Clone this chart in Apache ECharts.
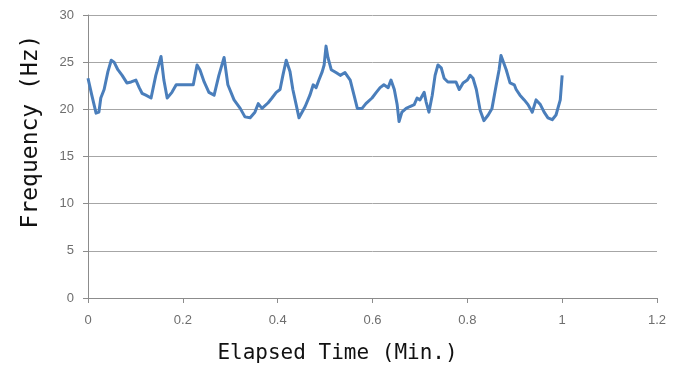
<!DOCTYPE html>
<html><head><meta charset="utf-8">
<script src="https://cdn.jsdelivr.net/npm/echarts@6/dist/echarts.min.js"></script>
<style>html,body{margin:0;padding:0;background:#fff}#c{width:688px;height:373px}</style>
</head><body><div id="c"></div>
<script>
var times = [0.000,0.008,0.017,0.023,0.027,0.034,0.042,0.049,0.055,0.063,0.072,0.082,0.091,0.101,0.108,0.114,0.122,0.133,0.143,0.154,0.160,0.167,0.177,0.186,0.203,0.222,0.230,0.236,0.245,0.255,0.266,0.276,0.287,0.295,0.308,0.321,0.331,0.342,0.352,0.359,0.367,0.380,0.388,0.397,0.405,0.411,0.418,0.426,0.432,0.439,0.445,0.458,0.468,0.475,0.481,0.487,0.494,0.498,0.502,0.506,0.513,0.523,0.532,0.542,0.553,0.561,0.568,0.578,0.586,0.599,0.608,0.616,0.624,0.633,0.639,0.646,0.652,0.656,0.662,0.671,0.679,0.688,0.694,0.700,0.709,0.713,0.719,0.726,0.732,0.738,0.745,0.751,0.759,0.768,0.776,0.783,0.791,0.800,0.806,0.812,0.819,0.827,0.835,0.844,0.852,0.861,0.867,0.871,0.882,0.890,0.899,0.903,0.911,0.920,0.928,0.937,0.945,0.954,0.962,0.970,0.979,0.987,0.996,1.000];
var freqs = [23.3,21.5,19.6,19.7,21.2,22.1,24.0,25.2,25.0,24.2,23.6,22.8,22.9,23.1,22.3,21.7,21.5,21.2,23.6,25.6,23.1,21.2,21.8,22.6,22.6,22.6,24.7,24.2,22.9,21.8,21.5,23.6,25.5,22.6,21.0,20.1,19.2,19.1,19.7,20.6,20.1,20.7,21.2,21.8,22.1,23.6,25.2,24.0,22.1,20.5,19.1,20.3,21.5,22.6,22.3,23.1,24.0,24.7,26.7,25.5,24.2,23.9,23.6,23.9,23.1,21.5,20.1,20.1,20.6,21.2,21.8,22.3,22.6,22.3,23.1,22.1,20.5,18.7,19.7,20.1,20.3,20.5,21.2,21.0,21.8,20.8,19.7,21.5,23.6,24.7,24.4,23.3,22.9,22.9,22.9,22.1,22.8,23.1,23.6,23.3,22.1,19.9,18.8,19.4,20.1,22.6,24.2,25.7,24.2,22.8,22.6,22.1,21.5,21.0,20.5,19.7,21.0,20.5,19.7,19.1,18.9,19.4,21.0,23.6];
var xTitle = 'Elapsed Time (Min.)';
var yTitle = 'Frequency (Hz)';

var pts = times.map(function(t,i){return [t,freqs[i]];});
var chart = echarts.init(document.getElementById('c'));
var lab = {color:'#6e6e6e', fontSize:13, fontFamily:'Liberation Sans, Arial, sans-serif'};
chart.setOption({
  animation:false,
  grid:{left:88,right:31,top:15,bottom:75,containLabel:false},
  xAxis:{type:'value',min:0,max:1.2,interval:0.2,
    name:xTitle,nameLocation:'middle',nameGap:45,
    nameTextStyle:{fontSize:21,color:'#111',fontFamily:'DejaVu Sans Mono, monospace',padding:[0,70,0,0]},
    axisLine:{show:true,lineStyle:{color:'#8c8c8c',width:1}},
    axisTick:{show:true,inside:false,length:5,lineStyle:{color:'#8c8c8c'}},
    axisLabel:Object.assign({margin:16,formatter:function(v){return String(Math.round(v*10)/10);}},lab),
    splitLine:{show:false}},
  yAxis:{type:'value',min:0,max:30,interval:5,
    name:yTitle,nameLocation:'middle',nameGap:45,nameRotate:90,
    nameTextStyle:{fontSize:23,color:'#111',fontFamily:'DejaVu Sans Mono, monospace',padding:[0,0,0,50]},
    axisLine:{show:true,lineStyle:{color:'#8c8c8c',width:1}},
    axisTick:{show:true,inside:false,length:5,lineStyle:{color:'#8c8c8c'}},
    axisLabel:Object.assign({margin:14},lab),
    splitLine:{show:true,lineStyle:{color:'#a6a6a6',width:1}}},
  series:[{type:'line',data:pts,showSymbol:false,symbol:'none',
    lineStyle:{color:'#4a7ebb',width:3,join:'round'},itemStyle:{color:'#4a7ebb'}}]
});
</script></body></html>
